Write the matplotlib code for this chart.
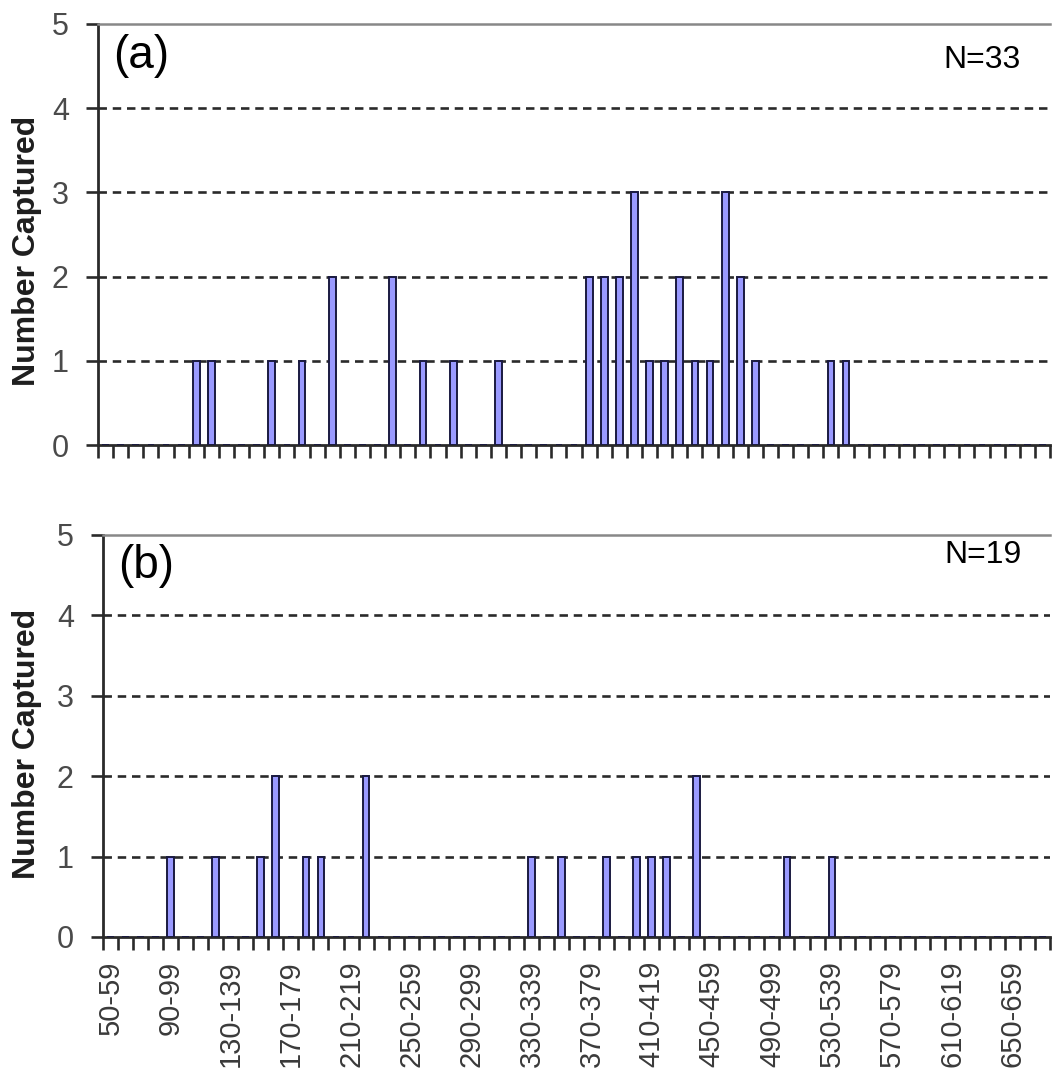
import matplotlib
matplotlib.use("Agg")
import matplotlib.pyplot as plt
import numpy as np

plt.rcParams['font.family'] = ['Liberation Sans', 'DejaVu Sans']

# size classes 50-59 ... 670-679
starts = list(range(50, 680, 10))
labels = [f"{s}-{s+9}" for s in starts]

# panel (a): bins (lower edge) with captures
bins_a = [110, 120, 160, 180, 200, 240, 260, 280, 310, 370, 380, 390, 400, 410,
          420, 430, 440, 450, 460, 470, 480, 530, 540]
counts_a = [1, 1, 1, 1, 2, 2, 1, 1, 1, 2, 2, 2, 3, 1,
            1, 2, 1, 1, 3, 2, 1, 1, 1]

# panel (b)
bins_b = [90, 120, 150, 160, 180, 190, 220, 330, 350, 380, 400, 410, 420, 440, 500, 530]
counts_b = [1, 1, 1, 2, 1, 1, 2, 1, 1, 1, 1, 1, 1, 2, 1, 1]


def full(bins, counts):
    vals = np.zeros(len(starts))
    for b, c in zip(bins, counts):
        vals[starts.index(b)] = c
    return vals


fig = plt.figure(figsize=(10.53, 10.76), dpi=100)
ax1 = fig.add_axes([0.0931, 0.5864, 0.9041, 0.3913])
ax2 = fig.add_axes([0.0978, 0.1292, 0.8994, 0.3736])

x = np.arange(len(starts))
panels = [(ax1, full(bins_a, counts_a), "(a)", "N=33", False, (-0.059, 0.46), 0.924, 0.914),
          (ax2, full(bins_b, counts_b), "(b)", "N=19", True, (-0.064, 0.48), 0.923, 0.950)]

for ax, vals, tag, ntext, show_lab, lab_xy, tag_y, n_y in panels:
    ax.bar(x, vals, width=0.45, color='#9a9aff', edgecolor='#1a1a40', linewidth=1.4, zorder=3)
    ax.set_xlim(-0.5, len(starts) - 0.5)
    ax.set_ylim(0, 5)
    ax.set_yticks(range(6))
    for yv in range(1, 5):
        ax.axhline(yv, color='#2a2a2a', linewidth=1.9, linestyle=(0, (3.2, 2.2)), zorder=1)

    # ticks at category boundaries, labels every 4th category
    ax.set_xticks(np.arange(-0.5, len(starts), 1), minor=True)
    ax.set_xticks(x[::4])
    if show_lab:
        ax.set_xticklabels(labels[::4], rotation=90, fontsize=21, color='#3a3a3a')
    else:
        ax.set_xticklabels([])
    ax.tick_params(axis='x', which='major', length=0, pad=17)
    ax.tick_params(axis='x', which='minor', length=9, width=1.9, color='#2a2a2a', direction='out')
    ax.tick_params(axis='y', length=9, width=1.9, color='#2a2a2a', direction='out',
                   labelsize=22, labelcolor='#4a4a4a', pad=12)

    for s in ['left', 'bottom']:
        ax.spines[s].set_color('#2a2a2a')
        ax.spines[s].set_linewidth(2.0)
    ax.spines['top'].set_color('#888888')
    ax.spines['top'].set_linewidth(1.8)
    ax.spines['right'].set_visible(False)

    ax.set_ylabel("Number Captured", fontsize=23, fontweight='bold', color='#1e1e1e')
    ax.yaxis.set_label_coords(*lab_xy)
    ax.text(0.016, tag_y, tag, transform=ax.transAxes, fontsize=33, ha='left', va='center')
    ax.text(0.9695, n_y, ntext, transform=ax.transAxes, fontsize=23, ha='right', va='center')

fig.savefig("out.png", dpi=100)
